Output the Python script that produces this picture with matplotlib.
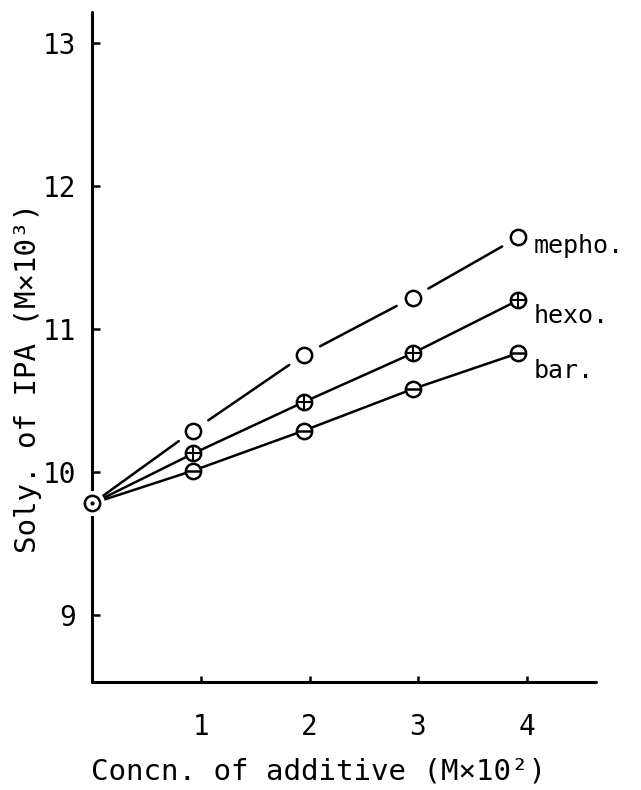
import matplotlib

matplotlib.use("Agg")
import matplotlib.pyplot as plt

# additive concentration (M x 10^2) and IPA solubility (M x 10^3)
conc = [0.93, 1.95, 2.95, 3.92]
start = (0.0, 9.78)  # no additive
mepho = [10.29, 10.82, 11.22, 11.64]
hexo = [10.13, 10.49, 10.83, 11.20]
bar = [10.01, 10.29, 10.58, 10.83]

xticks = [1, 2, 3, 4]
yticks = [9, 10, 11, 12, 13]

FONT = "DejaVu Sans Mono"
plt.rcParams["font.family"] = FONT

fig = plt.figure(figsize=(6.41, 7.90), dpi=100)
ax = fig.add_axes([0.1443, 0.1367, 0.7855, 0.8481])
ax.set_xlim(0, 4.64)
ax.set_ylim(8.531, 13.217)

for side in ("top", "right"):
    ax.spines[side].set_visible(False)
for side in ("left", "bottom"):
    ax.spines[side].set_linewidth(2.2)
    ax.spines[side].set_capstyle("round")

ax.set_xticks(xticks)
ax.set_yticks(yticks)
ax.tick_params(axis="y", direction="in", length=6, width=1.8, pad=12, labelsize=20)
ax.tick_params(axis="x", direction="in", length=4, width=1.8, pad=22, labelsize=20)

ax.set_xlabel("Concn. of additive (M×10²)", fontsize=21)
ax.xaxis.set_label_coords(0.448, -0.113)
ax.set_ylabel("Soly. of IPA (M×10³)", fontsize=21)
ax.yaxis.label.set_va("center")
ax.yaxis.set_label_coords(-0.128, 0.454)

LW = 1.8


def segments(ys, gap):
    xs = [start[0]] + conc
    yy = [start[1]] + ys
    for i in range(len(xs) - 1):
        ga = 6 if i == 0 else gap
        ax.annotate("", xy=(xs[i + 1], yy[i + 1]), xytext=(xs[i], yy[i]),
                    arrowprops=dict(arrowstyle="-", lw=LW, color="black",
                                    shrinkA=ga, shrinkB=gap),
                    annotation_clip=False)


segments(mepho, 13)
segments(hexo, 6)
segments(bar, 6)

mk = dict(ms=11, mew=1.8, mec="black", mfc="white", ls="none", zorder=5,
          clip_on=False)
ax.plot(conc, mepho, "o", **mk)
ax.plot(conc, hexo, "o", **mk)
ax.plot(conc, hexo, "+", ms=11, mew=1.5, color="black", ls="none", zorder=6)
ax.plot(conc, bar, "o", **mk)
ax.plot(conc, bar, "_", ms=11, mew=1.8, color="black", ls="none", zorder=6)

# common starting point sits on the y axis with a small break around it
ax.plot(*start, "o", ms=17, mfc="white", mec="white", zorder=4, clip_on=False)
ax.plot(*start, "o", **mk)
ax.plot(*start, ".", ms=4, color="black", zorder=6, clip_on=False)

# series names just right of the last point
for ys, name, dy in ((mepho, "mepho.", -6), (hexo, "hexo.", -11), (bar, "bar.", -13)):
    ax.annotate(name, xy=(conc[-1], ys[-1]), xytext=(11, dy),
                textcoords="offset points", fontsize=18,
                va="center", ha="left", annotation_clip=False)

fig.savefig("out.png", dpi=100)
